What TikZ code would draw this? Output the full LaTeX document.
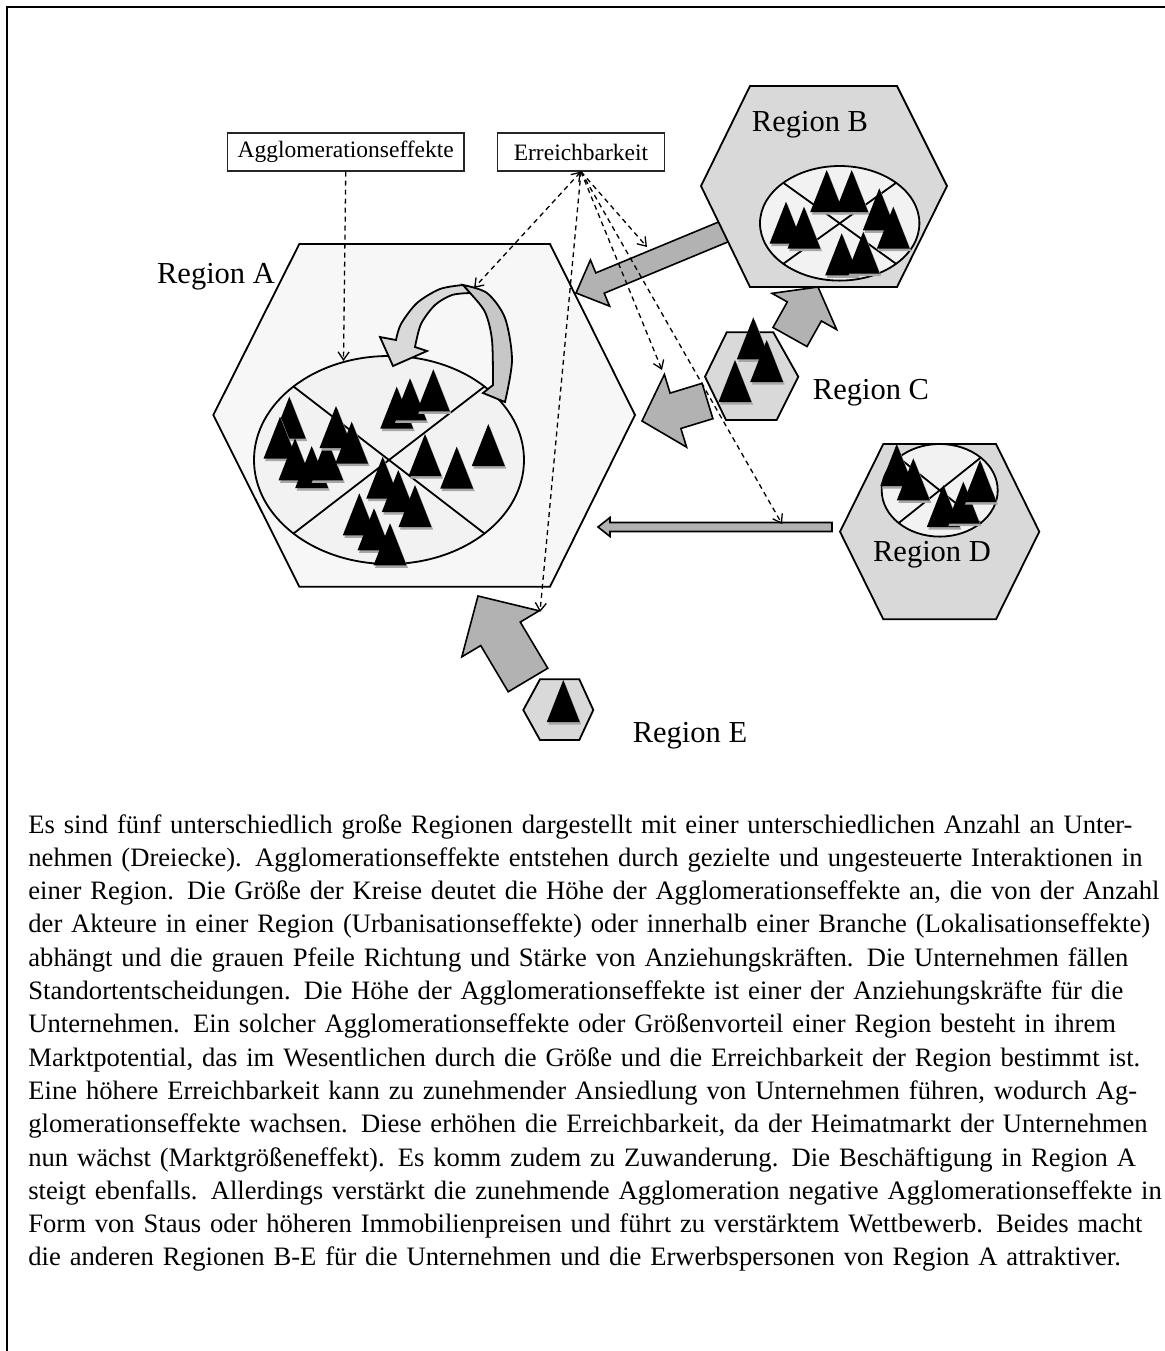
\documentclass[tikz,border=0pt]{standalone}
\usepackage{fontspec}
\setmainfont{Liberation Serif}
\usetikzlibrary{calc,positioning,arrows.meta}

\definecolor{hexlight}{gray}{0.97}
\definecolor{hexgray}{gray}{0.85}
\definecolor{ovalfill}{gray}{0.95}
\definecolor{pullgray}{gray}{0.70}
\definecolor{loopfront}{gray}{0.85}
\definecolor{loopback}{gray}{0.78}

\tikzset{
  region/.style={draw=black, line width=0.9pt},
  oval/.style={draw=black, line width=0.9pt, fill=ovalfill},
  pull/.style={draw=black, line width=0.8pt, fill=pullgray},
  loopband/.style={draw=black, line width=0.9pt},
  labelbox/.style={draw=black!85, line width=0.6pt, fill=white, inner sep=0pt,
    minimum height=19pt, font=\fontsize{11.75}{14}\selectfont},
  regionname/.style={inner sep=0pt, anchor=base, font=\fontsize{15.25}{18}\selectfont},
  reachline/.style={->, line width=0.65pt, dash pattern=on 2.5pt off 2pt},
  bodytext/.style={inner sep=0pt, text width=560pt, align=left,
    font=\fontsize{13.3}{16.65}\selectfont}
}

% firm (triangle), apex given in picture pixels
\newcommand{\firm}[1]{%
  \fill[black!35] ($(#1)+(1.5,2.5)$) -- ++(-16.5,42) -- ++(33,0) -- cycle;%
  \fill[black] (#1) -- ++(-16.5,42) -- ++(33,0) -- cycle;%
}
% grey block arrow: name, tail, tip, shaft half width, head half width, head length
\newcommand{\pullarrow}[6]{%
  \coordinate (#1-tail) at (#2);%
  \coordinate (#1-tip) at (#3);%
  \coordinate (#1-neck) at ($(#1-tip)!#6!(#1-tail)$);%
  \filldraw[pull] (#1-tip) -- ($(#1-neck)!#5!90:(#1-tail)$) -- ($(#1-neck)!#4!90:(#1-tail)$)
    -- ($(#1-tail)!#4!-90:(#1-tip)$) -- ($(#1-tail)!#4!90:(#1-tip)$)
    -- ($(#1-neck)!#4!-90:(#1-tail)$) -- ($(#1-neck)!#5!-90:(#1-tail)$) -- cycle;%
}
\newcommand{\fullline}[1]{\makebox[560pt][s]{#1}}

\begin{document}
\begin{tikzpicture}[x=0.5pt, y=-0.5pt, >={Straight Barb[length=4pt,width=5.5pt]}]
\useasboundingbox (0,0) rectangle (1165,1351);
\draw[line width=1pt] (7,1351) -- (7,7) -- (1165,7);%

% Drawing region A
\filldraw[region, fill=hexlight] (299.3,244) -- (550,244) -- (635,415) -- (550,586.7) -- (299.3,586.7) -- (213.3,415) -- cycle;%
\coordinate (oval-a) at (389,460);
\filldraw[oval] (oval-a) ellipse [x radius=67.5pt, y radius=52pt];%
\draw[line width=0.9pt] ($(oval-a)+(-95.5,-73.5)$) -- ($(oval-a)+(95.5,73.5)$);%
\draw[line width=0.9pt] ($(oval-a)+(-95.5,73.5)$) -- ($(oval-a)+(95.5,-73.5)$);%
\foreach \p in {{289.3,396.7},{280,416.7},{295,438.3},{311.7,446},{326.7,438.3},{336,406},{351.7,421.7},
  {396.7,386.7},{410,378.3},{433.3,369.3},{488.3,424},{456.7,446.7},{425,434},
  {382.7,456.7},{398.3,470},{415,485},{359.3,493.3},{374,508.3},{390,523.3}}
  \firm{\p};
\node[regionname] (name-a) at (216,283) {Region A};

% Drawing loop arrow inside region A
\filldraw[loopband, fill=loopback] plot[smooth] coordinates {(463,285) (487,293) (505,318) (512,360) (505,402)}
  -- (483,393) -- plot[smooth] coordinates {(493,385) (492,340) (485,312) (470,293)} -- cycle;%
\filldraw[loopband, fill=loopfront] plot[smooth] coordinates {(463,285) (440,289) (417,303) (401,324) (396,340)}
  -- (380,337) -- (393,366) -- (427,351)
  -- plot[smooth] coordinates {(415,347) (421,324) (435,305) (452,295) (470,293)} -- cycle;%

% Drawing grey arrows
\pullarrow{ba}{740,225}{576,293}{5.5pt}{12.5pt}{13pt}
\pullarrow{cb}{790,337}{818,287}{9.75pt}{18.5pt}{14pt}
\pullarrow{da}{832,527}{598,527}{2.25pt}{4.75pt}{6pt}
\pullarrow{ea}{528,680}{478,596}{11.5pt}{22.5pt}{22pt}

% Drawing region B
\filldraw[region, fill=hexgray] (701,186) -- (750,86) -- (897,86) -- (947,186) -- (897,287) -- (750,287) -- cycle;%
\coordinate (oval-b) at (839.7,223.3);
\filldraw[oval] (oval-b) ellipse [x radius=39.85pt, y radius=28.65pt];%
\draw[line width=0.9pt] ($(oval-b)+(-56.4,-40.5)$) -- ($(oval-b)+(56.4,40.5)$);%
\draw[line width=0.9pt] ($(oval-b)+(-56.4,40.5)$) -- ($(oval-b)+(56.4,-40.5)$);%
\foreach \p in {{826.7,170},{851.7,170},{786,201.7},{804,206.7},{879.3,188.3},{893.3,206.7},{841.7,233.3},{863.3,231.7}}
  \firm{\p};
\node[regionname] (name-b) at (810,131) {Region B};

% Drawing region C
\filldraw[region, fill=hexgray] (705,376.7) -- (726.7,332.3) -- (773.3,332.3) -- (798.3,376.7) -- (776.7,420) -- (726,420) -- cycle;%
\foreach \p in {{753.3,317.3},{766.7,340},{735,360}}
  \firm{\p};
\node[regionname] (name-c) at (871,399) {Region C};
\pullarrow{ca}{707.5,401}{642,421}{9.25pt}{19pt}{17.5pt}

% Drawing region D
\filldraw[region, fill=hexgray] (840,531.7) -- (883.3,444) -- (996,444) -- (1039.3,531.7) -- (996,619.3) -- (883.3,619.3) -- cycle;%
\coordinate (oval-d) at (939.7,490.3);
\filldraw[oval] (oval-d) ellipse [x radius=29pt, y radius=23.15pt];%
\draw[line width=0.9pt] ($(oval-d)+(-41,-32.7)$) -- ($(oval-d)+(41,32.7)$);%
\draw[line width=0.9pt] ($(oval-d)+(-41,32.7)$) -- ($(oval-d)+(41,-32.7)$);%
\foreach \p in {{896.7,444},{913.3,458.3},{943.3,485},{963.3,481.7},{980,460}}
  \firm{\p};
\node[regionname] (name-d) at (932,561) {Region D};

% Drawing region E
\filldraw[region, fill=hexgray] (523.3,710) -- (540,679.3) -- (579.3,679.3) -- (593.3,710) -- (579.3,740) -- (540,740) -- cycle;%
\firm{563.3,680}
\node[regionname] (name-e) at (690,742) {Region E};

% Marking the two factors
\node[labelbox, minimum width=118.25pt] (agglo) at (345.75,152) {Agglomerationseffekte};
\node[labelbox, minimum width=83.8pt, right=16pt of agglo] (reach) {Erreichbarkeit};

% Drawing dashed influence lines
\coordinate (oval-a-top) at (343.5,361);
\coordinate (loop-top) at (474,288);
\coordinate (ba-push) at (647,247);
\coordinate (ca-push) at (662,370);
\coordinate (da-push) at (782,524);
\coordinate (ea-push) at (540,612);
\draw[reachline] (agglo.south) -- (oval-a-top);%
\draw[reachline, <->] (reach.south) -- (loop-top);%
\foreach \t in {ba-push,ca-push,da-push,ea-push}
  \draw[reachline] (reach.south) -- (\t);%

% Caption text
\node[bodytext, anchor=base west] (caption) at (28,833) {%
\fullline{Es sind fünf unterschiedlich große Regionen dargestellt mit einer unterschiedlichen Anzahl an Unter-}\\
\fullline{nehmen (Dreiecke). Agglomerationseffekte entstehen durch gezielte und ungesteuerte Interaktionen in}\\
\fullline{einer Region. Die Größe der Kreise deutet die Höhe der Agglomerationseffekte an, die von der Anzahl}\\
\fullline{der Akteure in einer Region (Urbanisationseffekte) oder innerhalb einer Branche (Lokalisationseffekte)}\\
\fullline{abhängt und die grauen Pfeile Richtung und Stärke von Anziehungskräften. Die Unternehmen fällen}\\
\fullline{Standortentscheidungen. Die Höhe der Agglomerationseffekte ist einer der Anziehungskräfte für die}\\
\fullline{Unternehmen. Ein solcher Agglomerationseffekte oder Größenvorteil einer Region besteht in ihrem}\\
\fullline{Marktpotential, das im Wesentlichen durch die Größe und die Erreichbarkeit der Region bestimmt ist.}\\
\fullline{Eine höhere Erreichbarkeit kann zu zunehmender Ansiedlung von Unternehmen führen, wodurch Ag-}\\
\fullline{glomerationseffekte wachsen. Diese erhöhen die Erreichbarkeit, da der Heimatmarkt der Unternehmen}\\
\fullline{nun wächst (Marktgrößeneffekt). Es komm zudem zu Zuwanderung. Die Beschäftigung in Region A}\\
\fullline{steigt ebenfalls. Allerdings verstärkt die zunehmende Agglomeration negative Agglomerationseffekte in}\\
\fullline{Form von Staus oder höheren Immobilienpreisen und führt zu verstärktem Wettbewerb. Beides macht}\\
die anderen Regionen B-E für die Unternehmen und die Erwerbspersonen von Region A attraktiver.};
\end{tikzpicture}
\end{document}
